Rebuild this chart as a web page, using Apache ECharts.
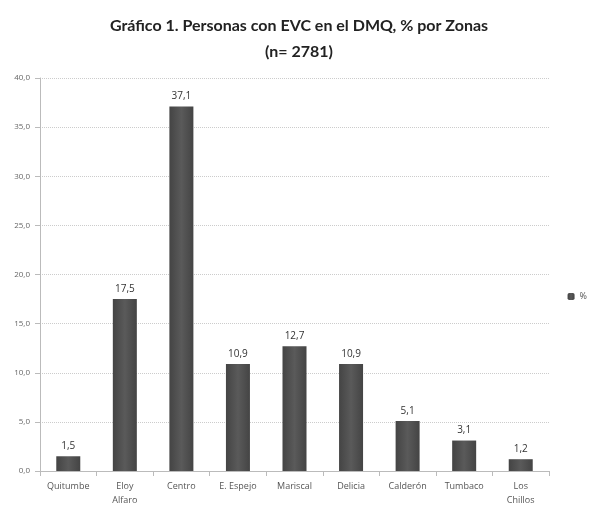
<!DOCTYPE html>
<html><head><meta charset="utf-8">
<script src="https://cdn.jsdelivr.net/npm/echarts@6/dist/echarts.min.js"></script>
<style>html,body{margin:0;padding:0;background:#fff}#c{width:598px;height:515px}</style>
</head><body><div id="c"></div>
<script>
const categories = ["Quitumbe","Eloy\nAlfaro","Centro","E. Espejo","Mariscal","Delicia","Calderón","Tumbaco","Los\nChillos"];
const values = [1.5,17.5,37.1,10.9,12.7,10.9,5.1,3.1,1.2];
const seriesName = "%";
const fmt = v => v.toFixed(1).replace('.', ',');
const chart = echarts.init(document.getElementById('c'));
chart.setOption({
  backgroundColor:'#fff',
  title:{text:'Gráfico 1. Personas con EVC en el DMQ, % por Zonas\n(n= 2781)',left:'center',top:8,
    textStyle:{fontFamily:'Lato',fontWeight:'bold',fontSize:16,color:'#222',lineHeight:26}},
  legend:{data:[seriesName],right:6,top:287,itemWidth:7,itemHeight:7,itemGap:4,
    textStyle:{fontFamily:'Open Sans',fontSize:9,color:'#555'}},
  grid:{left:40,right:49,top:78,bottom:44},
  xAxis:{type:'category',data:categories,
    axisLine:{lineStyle:{color:'#bbb'}},axisTick:{show:true,lineStyle:{color:'#bbb'}},
    axisLabel:{interval:0,fontFamily:'Open Sans',fontSize:9,color:'#555',lineHeight:14,margin:8}},
  yAxis:{type:'value',min:0,max:40,interval:5,
    axisLine:{show:true,lineStyle:{color:'#bbb'}},axisTick:{show:true,lineStyle:{color:'#bbb'}},
    splitLine:{lineStyle:{color:'#ccc',type:'dotted'}},
    axisLabel:{formatter:v=>fmt(v),fontFamily:'Open Sans',fontSize:8,color:'#666',margin:10}},
  series:[{name:seriesName,type:'bar',data:values,barWidth:24,
    itemStyle:{color:new echarts.graphic.LinearGradient(0,0,1,0,[{offset:0,color:'#444'},{offset:0.5,color:'#5a5a5a'},{offset:1,color:'#444'}])},
    label:{show:true,position:'top',formatter:p=>fmt(p.value),fontFamily:'Open Sans',fontSize:10,color:'#333',distance:5}}]
});
</script></body></html>
